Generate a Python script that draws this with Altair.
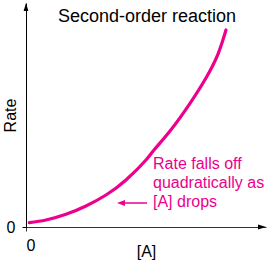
import altair as alt
import pandas as pd

# Curve (x = [A], y = rate, arbitrary units)
conc = [3.3, 20, 40, 60, 80, 100, 120, 128, 144, 164, 180.7, 192.3, 200]
rate = [4.3, 7, 12.7, 21, 32, 47, 67, 77, 96, 123.7, 150.3, 173.7, 197]

note_lines = ["Rate falls off", "quadratically as", "[A] drops"]
note_y = [63, 44, 25]
note_x = [127, 127, 127]

title_text = ["Second-order reaction"]

MAG = "#EC008C"
FONT = "Liberation Sans"
W, H = 240, 224

xs = alt.Scale(domain=[0, W], nice=False, zero=False)
ys = alt.Scale(domain=[0, H], nice=False, zero=False)

curve_df = pd.DataFrame({"x": conc, "y": rate})
curve = alt.Chart(curve_df).mark_line(
    color=MAG, strokeWidth=3.2, interpolate="natural", strokeCap="round"
).encode(
    x=alt.X("x:Q", scale=xs, axis=alt.Axis(
        values=[0], title="[A]", labelFontSize=16, labelFont=FONT,
        titleFont=FONT, titleFontSize=16, titleFontWeight="normal",
        titleColor="black", labelColor="black", domainColor="#333",
        tickColor="#333", tickSize=4, labelPadding=6, grid=False,
        titleX=120, titleY=24, titleBaseline="middle")),
    y=alt.Y("y:Q", scale=ys, axis=alt.Axis(
        values=[0], title="Rate", labelFontSize=16, labelFont=FONT,
        titleFont=FONT, titleFontSize=16, titleFontWeight="normal",
        titleColor="black", labelColor="black", domainColor="black",
        tickColor="black", tickSize=4, labelPadding=7, grid=False,
        titleX=-16, titleY=112, titleBaseline="middle", titleAngle=-90,
        titleAlign="center")),
)

arrow_df = pd.DataFrame({"x": [0, 236], "y": [220, 0],
                         "s": ["M0,-1L-0.6,1L0.6,1Z", "M1,0L-1,-0.6L-1,0.6Z"]})
axis_heads = alt.Chart(arrow_df).mark_point(
    filled=True, color="black", opacity=1, size=64, strokeWidth=0
).encode(x=alt.X("x:Q", scale=xs), y=alt.Y("y:Q", scale=ys),
         shape=alt.Shape("s:N", scale=None))

ptr_df = pd.DataFrame({"x": [97], "x2": [121], "y": [24]})
ptr_line = alt.Chart(ptr_df).mark_rule(color=MAG, strokeWidth=1.5).encode(
    x=alt.X("x:Q", scale=xs), x2="x2:Q", y=alt.Y("y:Q", scale=ys))
ptr_head = alt.Chart(pd.DataFrame({"x": [95], "y": [24]})).mark_point(
    filled=True, color=MAG, opacity=1, size=64, strokeWidth=0,
    shape="M-1,0L1,-0.75L1,0.75Z"
).encode(x=alt.X("x:Q", scale=xs), y=alt.Y("y:Q", scale=ys))

note_df = pd.DataFrame({"x": note_x, "y": note_y, "t": note_lines})
note = alt.Chart(note_df).mark_text(
    align="left", baseline="middle", color=MAG, font=FONT, fontSize=16
).encode(x=alt.X("x:Q", scale=xs), y=alt.Y("y:Q", scale=ys), text="t:N")

title_df = pd.DataFrame({"x": [121], "y": [210], "t": title_text})
title = alt.Chart(title_df).mark_text(
    align="center", baseline="middle", color="black", font=FONT, fontSize=18
).encode(x=alt.X("x:Q", scale=xs), y=alt.Y("y:Q", scale=ys), text="t:N")

chart = alt.layer(curve, ptr_line, ptr_head, axis_heads, note, title).properties(
    width=W, height=H,
    padding={"left": 26, "top": 3, "right": 1, "bottom": 34},
    autosize=alt.AutoSizeParams(type="none"),
    background="white",
).configure_view(stroke=None)

chart.save("out.html", embed_options={"renderer": "svg", "actions": False})
